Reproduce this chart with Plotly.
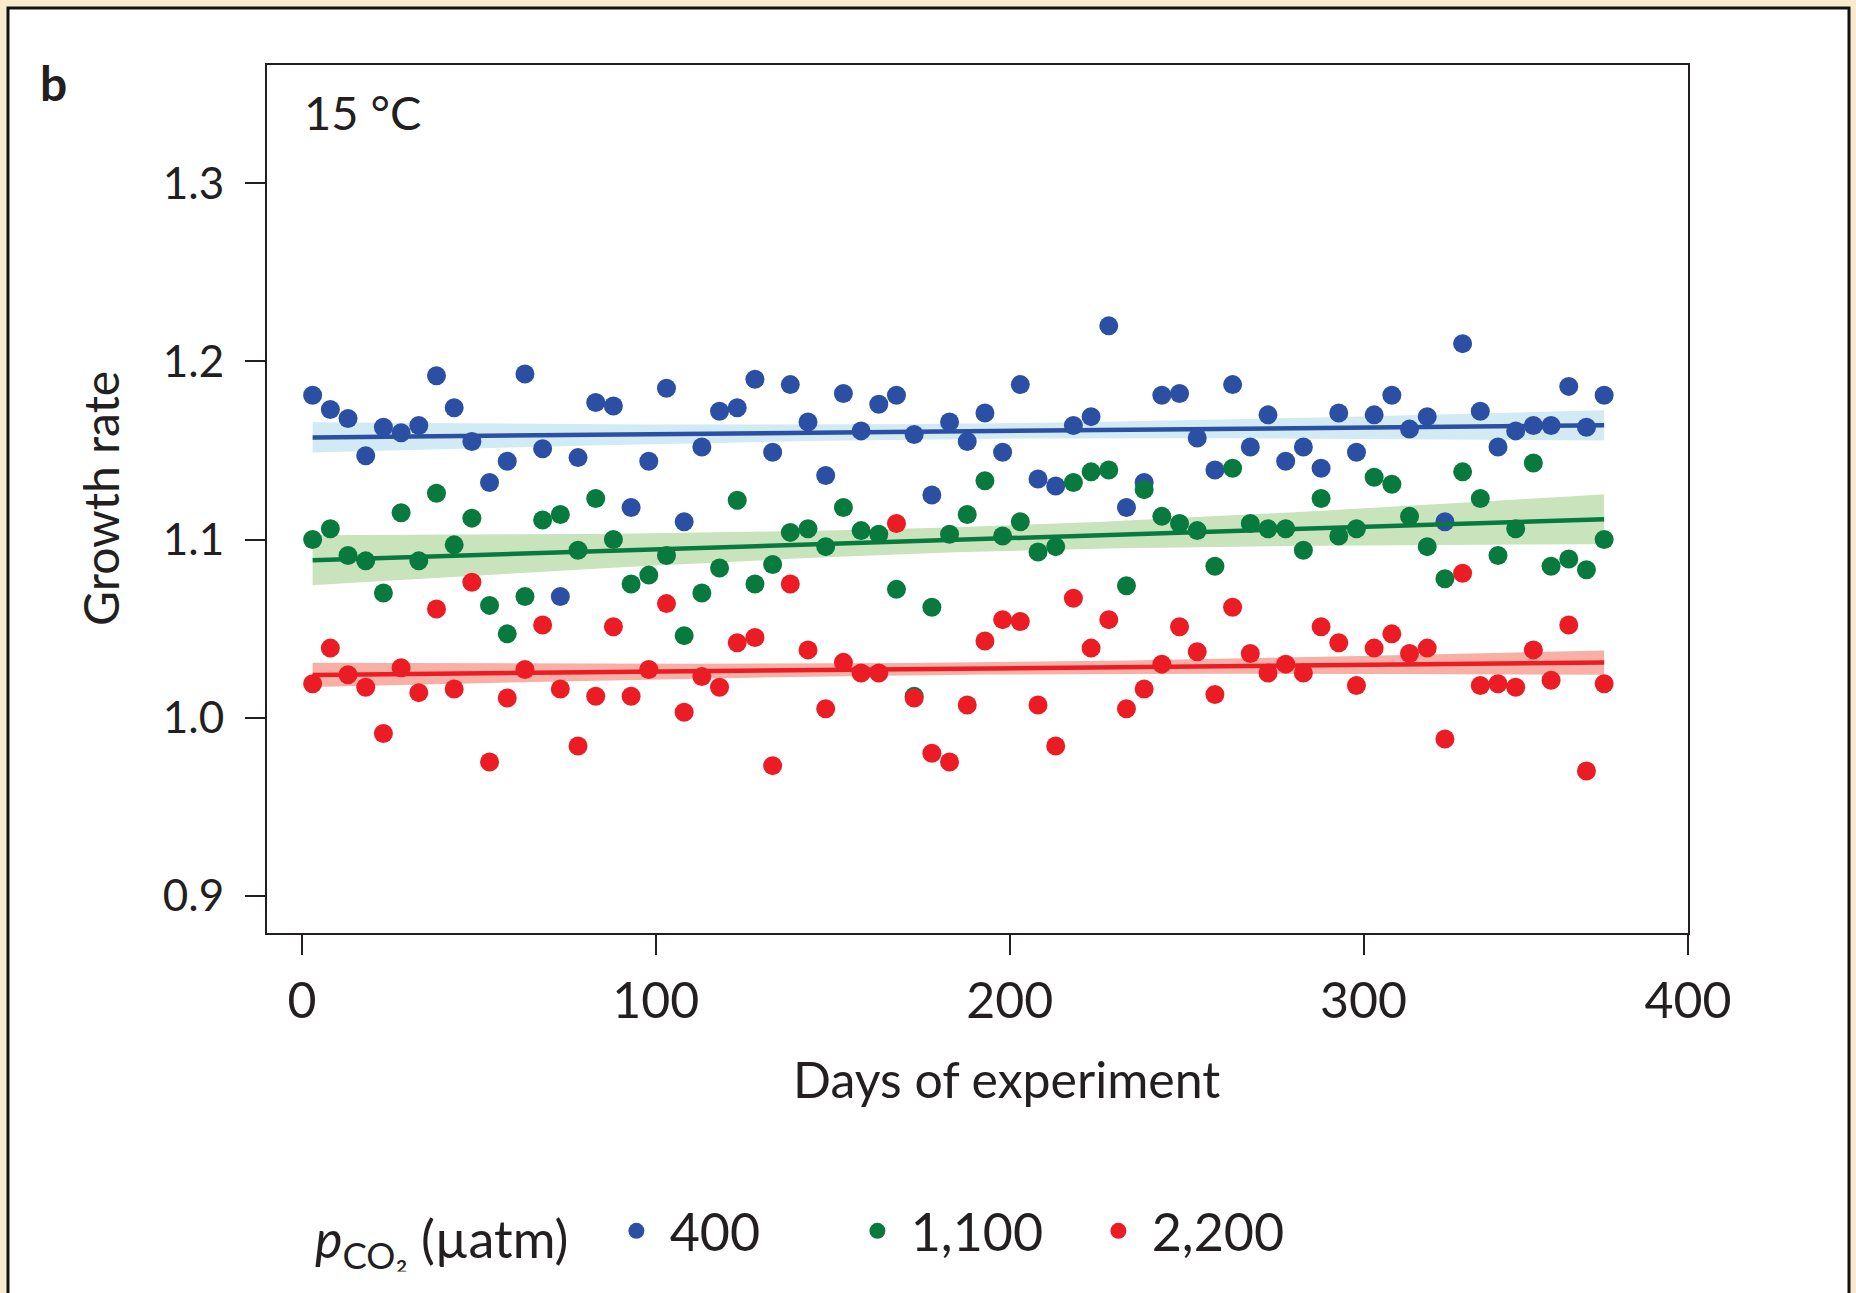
import numpy as np
import plotly.graph_objects as go

# ---------------- data ----------------
days = [3, 8, 13, 18, 23, 28, 33, 38, 43, 48, 53, 58, 63, 68, 73, 78, 83, 88, 93, 98,
        103, 108, 113, 118, 123, 128, 133, 138, 143, 148, 153, 158, 163, 168, 173, 178,
        183, 188, 193, 198, 203, 208, 213, 218, 223, 228, 233, 238, 243, 248, 253, 258,
        263, 268, 273, 278, 283, 288, 293, 298, 303, 308, 313, 318, 323, 328, 333, 338,
        343, 348, 353, 358, 363, 368]

growth_400 = [1.181, 1.173, 1.168, 1.147, 1.163, 1.160, 1.164, 1.192, 1.174, 1.155,
              1.132, 1.144, 1.193, 1.151, 1.068, 1.146, 1.177, 1.175, 1.118, 1.144,
              1.185, 1.110, 1.152, 1.172, 1.174, 1.190, 1.149, 1.187, 1.166, 1.136,
              1.182, 1.161, 1.176, 1.181, 1.159, 1.125, 1.166, 1.155, 1.171, 1.149,
              1.187, 1.134, 1.130, 1.164, 1.169, 1.220, 1.118, 1.132, 1.181, 1.182,
              1.157, 1.139, 1.187, 1.152, 1.170, 1.144, 1.152, 1.140, 1.171, 1.149,
              1.170, 1.181, 1.162, 1.169, 1.110, 1.210, 1.172, 1.152, 1.161, 1.164,
              1.164, 1.186, 1.163, 1.181]

growth_1100 = [1.100, 1.106, 1.091, 1.088, 1.070, 1.115, 1.088, 1.126, 1.097, 1.112,
               1.063, 1.047, 1.068, 1.111, 1.114, 1.094, 1.123, 1.100, 1.075, 1.080,
               1.091, 1.046, 1.070, 1.084, 1.122, 1.075, 1.086, 1.104, 1.106, 1.096,
               1.118, 1.105, 1.103, 1.072, 1.012, 1.062, 1.103, 1.114, 1.133, 1.102,
               1.110, 1.093, 1.096, 1.132, 1.138, 1.139, 1.074, 1.128, 1.113, 1.109,
               1.105, 1.085, 1.140, 1.109, 1.106, 1.106, 1.094, 1.123, 1.102, 1.106,
               1.135, 1.131, 1.113, 1.096, 1.078, 1.138, 1.123, 1.091, 1.106, 1.143,
               1.085, 1.089, 1.083, 1.100]

growth_2200 = [1.019, 1.039, 1.024, 1.017, 0.991, 1.028, 1.014, 1.061, 1.016, 1.076,
               0.975, 1.011, 1.027, 1.052, 1.016, 0.984, 1.012, 1.051, 1.012, 1.027,
               1.064, 1.003, 1.023, 1.017, 1.042, 1.045, 0.973, 1.075, 1.038, 1.005,
               1.031, 1.025, 1.025, 1.109, 1.011, 0.980, 0.975, 1.007, 1.043, 1.055,
               1.054, 1.007, 0.984, 1.067, 1.039, 1.055, 1.005, 1.016, 1.030, 1.051,
               1.037, 1.013, 1.062, 1.036, 1.025, 1.030, 1.025, 1.051, 1.042, 1.018,
               1.039, 1.047, 1.036, 1.039, 0.988, 1.081, 1.018, 1.019, 1.017, 1.038,
               1.021, 1.052, 0.970, 1.019]

# half-width of the shaded confidence band at the ends of the fit
band_halfwidth_at_ends = [0.0085, 0.014, 0.0068]

series_names = ["400", "1,100", "2,200"]
y_tick_values = [0.9, 1.0, 1.1, 1.2, 1.3]
x_tick_labels = ["0", "100", "200", "300", "400"]

# ---------------- styling ----------------
dot_colors = ["#2b50a3", "#087a3d", "#ec1c24"]
band_colors = ["#d2eaf3", "#c9e4bd", "#f7b0a6"]
text_color = "#231f20"
FONT = "Lato"

W, H = 1856, 1293
ML, MR, MT, MB = 267, 168, 65, 360
PW, PH = W - ML - MR, H - MT - MB

x_range = [-9.9, 391.7]
y_range = [0.879, 1.3665]


def px_to_paper_x(px):
    return (px - ML) / PW


def px_to_paper_y(py):
    return (H - MB - py) / PH


def fit_with_band(x, y, halfwidth_end):
    x = np.asarray(x, float)
    y = np.asarray(y, float)
    n = len(x)
    slope, intercept = np.polyfit(x, y, 1)
    yhat = intercept + slope * x
    sxx = np.sum((x - x.mean()) ** 2)
    shape = np.sqrt(1.0 / n + (x - x.mean()) ** 2 / sxx)
    hw = halfwidth_end * shape / shape.max()
    return yhat, yhat - hw, yhat + hw


all_series = [growth_400, growth_1100, growth_2200]
fits = [fit_with_band(days, s, h) for s, h in zip(all_series, band_halfwidth_at_ends)]

fig = go.Figure()

# confidence bands (below everything)
for (yhat, lo, hi), bc in zip(fits, band_colors):
    fig.add_trace(go.Scatter(
        x=list(days) + list(days)[::-1],
        y=list(hi) + list(lo)[::-1],
        fill="toself", fillcolor=bc, mode="lines",
        line=dict(width=0, color=bc), hoverinfo="skip", showlegend=False))

# points then regression line, per series
for s, (yhat, lo, hi), c, name in zip(all_series, fits, dot_colors, series_names):
    fig.add_trace(go.Scatter(
        x=days, y=s, mode="markers", name="\u00a0" + name,
        marker=dict(size=19, color=c, line=dict(width=0))))
    fig.add_trace(go.Scatter(
        x=days, y=yhat, mode="lines", line=dict(color=c, width=4.5),
        hoverinfo="skip", showlegend=False))

axis_common = dict(
    showline=True, linecolor=text_color, linewidth=2, mirror=True,
    ticks="outside", tickcolor=text_color, tickwidth=2, ticklen=20,
    showgrid=False, zeroline=False,
)

fig.update_xaxes(
    range=x_range, tickmode="array",
    tickvals=[0, 100, 200, 300, x_range[1]], ticktext=x_tick_labels,
    ticklabelstandoff=3, tickfont=dict(family=FONT, size=50, color=text_color),
    **axis_common)
fig.update_yaxes(
    range=y_range, tickmode="array", tickvals=y_tick_values,
    tickformat=".1f", ticklabelstandoff=12,
    tickfont=dict(family=FONT, size=44, color=text_color), **axis_common)

annotations = [
    dict(text="<b>b</b>", x=px_to_paper_x(38), y=px_to_paper_y(82),
         xref="paper", yref="paper",
         xanchor="left", yanchor="middle", showarrow=False,
         font=dict(family=FONT, size=48, color=text_color)),
    dict(text="15 °C", x=px_to_paper_x(302), y=px_to_paper_y(112),
         xref="paper", yref="paper",
         xanchor="left", yanchor="middle", showarrow=False,
         font=dict(family=FONT, size=47, color=text_color)),
    dict(text="Growth rate", x=px_to_paper_x(100), y=0.5, textangle=-90,
         xref="paper", yref="paper",
         xanchor="center", yanchor="middle", showarrow=False,
         font=dict(family=FONT, size=48, color=text_color)),
    dict(text="Days of experiment", x=px_to_paper_x(1006), y=px_to_paper_y(1079),
         xref="paper", yref="paper",
         xanchor="center", yanchor="middle", showarrow=False,
         font=dict(family=FONT, size=50, color=text_color)),
]

shapes = [
    dict(type="rect", xref="paper", yref="paper", layer="below",
         x0=px_to_paper_x(8), x1=px_to_paper_x(1849),
         y0=px_to_paper_y(1310), y1=px_to_paper_y(8),
         fillcolor="white", line=dict(color="#111111", width=3)),
]

fig.update_layout(
    width=W, height=H,
    margin=dict(l=ML, r=MR, t=MT, b=MB, autoexpand=False),
    paper_bgcolor="#f8eacd", plot_bgcolor="white",
    font=dict(family=FONT, color=text_color, size=50),
    annotations=annotations, shapes=shapes,
    legend=dict(
        orientation="h", x=px_to_paper_x(313), y=px_to_paper_y(1231),
        xanchor="left", yanchor="middle",
        title=dict(text="<i>p</i><sub>CO₂</sub> (µatm)\u00a0\u00a0\u00a0", side="left",
                   font=dict(family=FONT, size=52, color=text_color)),
        font=dict(family=FONT, size=52, color=text_color),
        bgcolor="rgba(0,0,0,0)", entrywidth=196, entrywidthmode="pixels",
        itemsizing="trace",
    ),
)

fig.write_html("out.html", config={"displayModeBar": False},
               post_script="document.body.style.margin='0';")
